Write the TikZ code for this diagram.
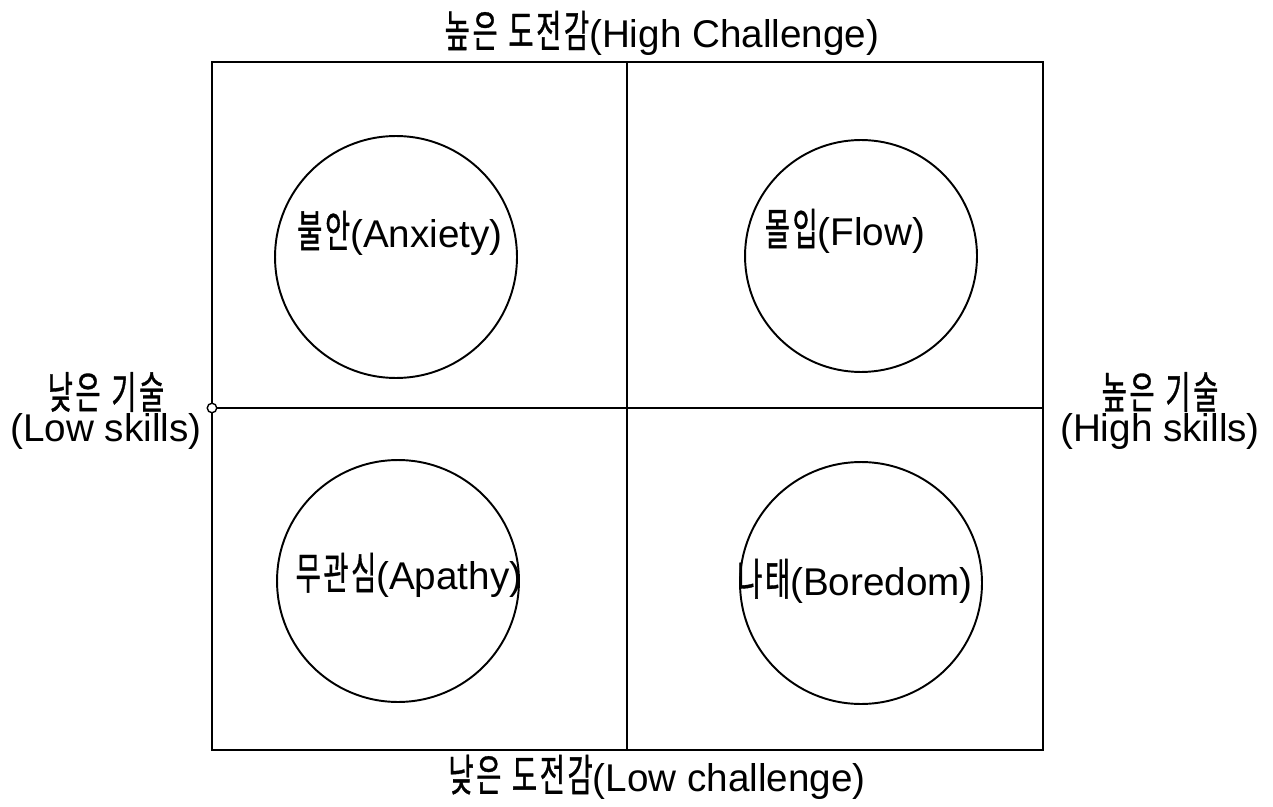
\documentclass[tikz,border=0pt]{standalone}
\usepackage{fontspec}
\setmainfont{Liberation Sans}
\newfontfamily\hanfont[FakeStretch=0.62, Scale=1.14, LetterSpace=6, FakeBold=0.8]{Noto Sans CJK KR}
\newcommand{\kr}[1]{{\hanfont #1}}
\usetikzlibrary{positioning}

\tikzset{
  zone/.style={circle, draw=black, line width=1.1pt, minimum size=4.8cm, inner sep=0},
  zonetext/.style={font=\fontsize{22}{19}\selectfont, inner sep=1pt},
  axistext/.style={font=\fontsize{22}{19}\selectfont, align=center, inner sep=1pt},
  frame line/.style={line width=0.9pt, black},
}

\begin{document}
\begin{tikzpicture}[x=0.02cm, y=-0.02cm]
    \useasboundingbox (0,0) rectangle (1273,807);

    % outer frame and the two dividers
    \coordinate (nw) at (212,62);
    \coordinate (se) at (1043,750);
    \coordinate (top) at (627,62);
    \coordinate (bot) at (627,750);
    \coordinate (right) at (1043,408);
    \draw[frame line] (nw) rectangle (se);
    \draw[frame line] (top) -- (bot);
    \node[circle, draw, fill=white, line width=0.8pt, minimum size=0.19cm, inner sep=0] (origin) at (212,408) {};
    \draw[frame line] (origin) -- (right);

    % four zones
    \node[zone, minimum size=4.84cm] (anx) at (396,257) {};
    \node[zone, minimum size=4.64cm] (flow) at (861,256) {};
    \node[zone, minimum size=4.84cm] (apa) at (398,581) {};
    \node[zone, minimum size=4.84cm] (bor) at (861,583) {};

    \node[zonetext] (anxlbl) at (400,233) {\kr{불안}(Anxiety)};
    \node[zonetext] (flowlbl) at (845,231) {\kr{몰입}(Flow)};
    \node[zonetext] (apalbl) at (409,575) {\kr{무관심}(Apathy)};
    \node[zonetext] (borlbl) at (855,581) {\kr{나태}(Boredom)};

    % axis labels
    \node[axistext] (hichal) at (662,33) {\kr{높은} \kr{도전감}(High Challenge)};
    \node[axistext] (lochal) at (657,777) {\kr{낮은} \kr{도전감}(Low challenge)};
    \node[axistext] (loskill) at (106,411) {\kr{낮은} \kr{기술}\\(Low skills)};
    \node[axistext] (hiskill) at (1160,411) {\kr{높은} \kr{기술}\\(High skills)};
\end{tikzpicture}
\end{document}
